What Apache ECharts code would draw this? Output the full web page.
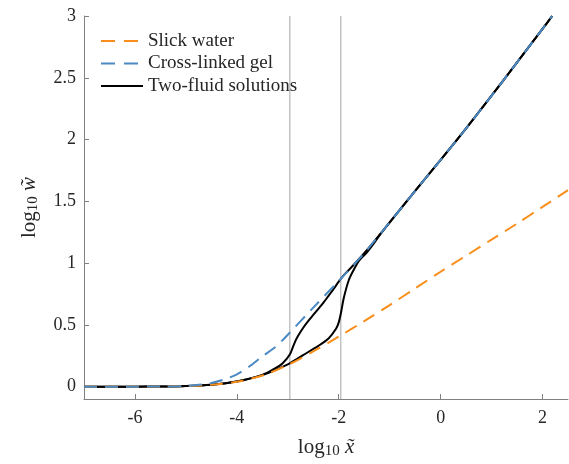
<!DOCTYPE html>
<html>
<head>
<meta charset="utf-8">
<script src="https://cdn.jsdelivr.net/npm/echarts@6/dist/echarts.min.js"></script>
<style>html,body{margin:0;padding:0;background:#fff;}#c{width:569px;height:464px;}</style>
</head>
<body>
<div id="c"></div>
<script>
const xTicks = [-6, -4, -2, 0, 2];
const yTicks = [0, 0.5, 1, 1.5, 2, 2.5, 3];

const slickX = [-7, -6, -5.5, -5, -4.5, -4, -3.5, -3, -2.5, -2, -1.5, -1, -0.5, 0, 0.5, 1, 1.5, 2, 2.5];
const slickY = [0, 0, 0.001, 0.005, 0.015, 0.04, 0.09, 0.175, 0.285, 0.405, 0.53, 0.66, 0.795, 0.93, 1.06, 1.19, 1.32, 1.455, 1.59];

const gelX = [-7, -6, -5.5, -5, -4.75, -4.5, -4.25, -4, -3.75, -3.5, -3.25, -3, -2.5, -2, -1.5, -1, -0.5, 0, 0.5, 1, 1.5, 2, 2.19];
const gelY = [0, 0, 0.001, 0.005, 0.015, 0.03, 0.058, 0.1, 0.165, 0.245, 0.318, 0.42, 0.64, 0.855, 1.08, 1.33, 1.585, 1.835, 2.09, 2.355, 2.625, 2.895, 3.0];

const twoAX = [-7, -6, -5.5, -5, -4.5, -4, -3.5, -3.25, -3.1, -2.96, -2.9, -2.85, -2.8, -2.7, -2.6, -2.5, -2.4, -2.3, -2.2, -2.1, -2.0, -1.9, -1.8, -1.5, -1, -0.5, 0, 0.5, 1, 1.5, 2, 2.19];
const twoAY = [0, 0, 0.001, 0.005, 0.016, 0.042, 0.095, 0.148, 0.19, 0.26, 0.32, 0.37, 0.41, 0.475, 0.53, 0.58, 0.63, 0.68, 0.735, 0.79, 0.85, 0.902, 0.945, 1.08, 1.33, 1.585, 1.835, 2.09, 2.355, 2.625, 2.895, 3.0];

const twoBX = [-7, -6, -5.5, -5, -4.5, -4, -3.5, -3, -2.7, -2.4, -2.2, -2.05, -2.0, -1.95, -1.9, -1.8, -1.7, -1.6, -1.45, -1.3, -1.2, -1, -0.5, 0, 0.5, 1, 1.5, 2, 2.19];
const twoBY = [0, 0, 0.001, 0.005, 0.016, 0.042, 0.093, 0.18, 0.255, 0.33, 0.39, 0.47, 0.52, 0.61, 0.72, 0.865, 0.95, 1.02, 1.085, 1.165, 1.225, 1.33, 1.585, 1.835, 2.09, 2.355, 2.625, 2.895, 3.0];

const vLineX = [-2.96, -1.96];
const yRange = [-0.1, 3];

const legendNames = ['Slick water', 'Cross-linked gel', 'Two-fluid solutions'];

const zip = (xs, ys) => xs.map((x, i) => [x, ys[i]]);
const FONT = "'Liberation Serif', serif";
const TXT = '#262626';
const AX = '#808080';
const ORANGE = '#F98E1A';
const BLUE = '#4A89C3';

const chart = echarts.init(document.getElementById('c'), null, {renderer: 'canvas'});

const vSeries = vLineX.map(x => ({
  type: 'line', data: [[x, yRange[0]], [x, yRange[1]]], symbol: 'none', silent: true,
  lineStyle: {color: '#b5b5b5', width: 1.2}, z: 1
}));

const nameRich = {
  a: {fontFamily: FONT, fontSize: 21, color: TXT},
  b: {fontFamily: FONT, fontSize: 15, color: TXT, padding: [9, 0, 0, 0]},
  c: {fontFamily: FONT, fontSize: 21, color: TXT, fontStyle: 'italic'}
};

chart.setOption({
  animation: false,
  textStyle: {fontFamily: FONT, color: TXT},
  grid: {left: 84, right: 1, top: 16, bottom: 65},
  legend: {
    orient: 'vertical', left: 100, top: 31, padding: 0, itemWidth: 42, itemHeight: 14, itemGap: 2.5,
    itemStyle: {opacity: 0},
    textStyle: {fontFamily: FONT, fontSize: 19, color: TXT, lineHeight: 20},
    data: [
      {name: legendNames[0], lineStyle: {type: [14, 9]}},
      {name: legendNames[1], lineStyle: {type: [14, 9]}},
      {name: legendNames[2]}
    ],
    selectedMode: false
  },
  xAxis: {
    type: 'value', min: -7, max: 2.5,
    axisLine: {onZero: false, lineStyle: {color: AX, width: 1}},
    axisTick: {inside: true, length: 5, customValues: xTicks, lineStyle: {color: AX}},
    axisLabel: {customValues: xTicks, fontFamily: FONT, fontSize: 18, color: TXT, margin: 10},
    splitLine: {show: false},
    name: '{a|log}{b|10} {c|x̃}', nameLocation: 'middle', nameGap: 36,
    nameTextStyle: {fontFamily: FONT, fontSize: 21, color: TXT, rich: nameRich}
  },
  yAxis: {
    type: 'value', min: yRange[0], max: yRange[1],
    axisLine: {onZero: false, lineStyle: {color: AX, width: 1}},
    axisTick: {inside: true, length: 5, customValues: yTicks, lineStyle: {color: AX}},
    axisLabel: {customValues: yTicks, fontFamily: FONT, fontSize: 18, color: TXT, margin: 8},
    splitLine: {show: false},
    name: '{a|log}{b|10} {c|w̃}', nameLocation: 'middle', nameGap: 43, nameRotate: 90,
    nameTextStyle: {fontFamily: FONT, fontSize: 21, color: TXT, rich: nameRich}
  },
  series: [
    ...vSeries,
    {name: legendNames[2], type: 'line', data: zip(twoAX, twoAY), symbol: 'none', smooth: 0.3, lineStyle: {color: '#000', width: 2}, itemStyle: {color: '#000'}, z: 2},
    {name: legendNames[2], type: 'line', data: zip(twoBX, twoBY), symbol: 'none', smooth: 0.3, lineStyle: {color: '#000', width: 2}, itemStyle: {color: '#000'}, z: 2},
    {name: legendNames[0], type: 'line', data: zip(slickX, slickY), symbol: 'none', smooth: 0.3, lineStyle: {color: ORANGE, width: 2, type: [13, 8]}, itemStyle: {color: ORANGE}, z: 3},
    {name: legendNames[1], type: 'line', data: zip(gelX, gelY), symbol: 'none', smooth: 0.3, lineStyle: {color: BLUE, width: 2, type: [13, 8]}, itemStyle: {color: BLUE}, z: 4}
  ]
});
</script>
</body>
</html>
